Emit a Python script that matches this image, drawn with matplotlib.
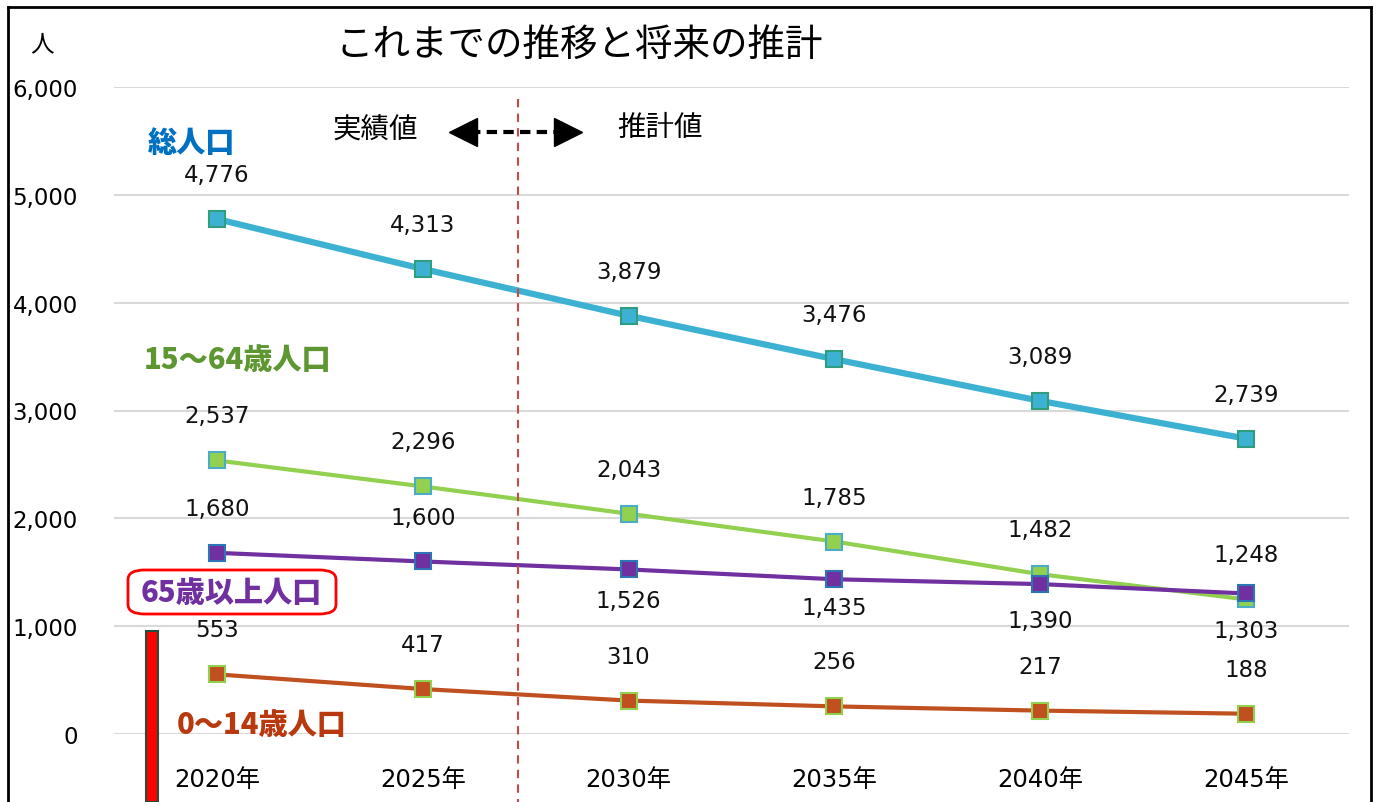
import matplotlib
matplotlib.use('Agg')
import matplotlib.pyplot as plt
from matplotlib.lines import Line2D
from matplotlib.patches import Rectangle, FancyBboxPatch

plt.rcParams['font.family'] = ['DejaVu Sans', 'Noto Sans CJK JP']
JP = ['Noto Sans CJK JP', 'DejaVu Sans']

# data
years = ['2020年', '2025年', '2030年', '2035年', '2040年', '2045年']
total = [4776, 4313, 3879, 3476, 3089, 2739]
working = [2537, 2296, 2043, 1785, 1482, 1248]
elderly = [1680, 1600, 1526, 1435, 1390, 1303]
children = [553, 417, 310, 256, 217, 188]
yticks = [0, 1000, 2000, 3000, 4000, 5000, 6000]

W, H = 1378, 803
fig = plt.figure(figsize=(W / 100, H / 100), dpi=100)

def px(x, y):
    # pixel position (from top-left) -> figure fraction
    return x / W, 1 - y / H

ax = fig.add_axes([114 / W, 1 - 735 / H, 1235 / W, 647 / H])
x = [i + 0.5 for i in range(len(years))]
ax.set_xlim(0, 6)
ax.set_ylim(0, 6000)
ax.set_yticks(yticks)
ax.set_yticklabels([f'{v:,}' for v in yticks], fontsize=16.5)
ax.set_xticks(x)
ax.set_xticklabels(years, fontsize=17.5)
ax.tick_params(length=0)
ax.tick_params(axis='y', pad=26)
ax.tick_params(axis='x', pad=24)
for s in ax.spines.values():
    s.set_visible(False)
ax.grid(axis='y', color='#D9D9D9', lw=1.5)
ax.set_axisbelow(True)

series = [
    (total, '#3DB1D2', '#2E9E7E', 4.5, ['a'] * 6),
    (working, '#92D050', '#4BACC6', 3, ['a'] * 6),
    (elderly, '#7030A0', '#2E75B6', 3, ['a', 'a', 'b', 'b', 'b', 'b']),
    (children, '#C0501F', '#92D050', 3, ['a'] * 6),
]
below_off = [-22, -20, -26, -27]
for vals, col, edge, lw, where in series:
    ax.plot(x, vals, color=col, lw=lw, marker='s', ms=11, mfc=col, mec=edge,
            mew=1.5, zorder=3)
    k = 0
    for xi, v, w in zip(x, vals, where):
        if w == 'a':
            off = 32
        else:
            off = below_off[k]
            k += 1
        ax.annotate(f'{v:,}', (xi, v), xytext=(0, off), textcoords='offset points',
                    ha='center', va='center', fontsize=16.5, color='#111111')

# frame
for (x0, y0), (x1, y1) in [((8, 803), (8, 8)), ((8, 8), (1371, 8)), ((1371, 8), (1371, 803))]:
    a, b = px(x0, y0)
    c, d = px(x1, y1)
    fig.add_artist(Line2D([a, c], [b, d], color='black', lw=2))

fig.text(*px(42, 45), '人', fontsize=17, family=JP, ha='center', va='center')
fig.text(*px(579, 45), 'これまでの推移と将来の推計', fontsize=27, family=JP,
         ha='center', va='center')

# actual / projected divider
a, b = px(518, 100)
c, d = px(518, 803)
fig.add_artist(Line2D([a, c], [b, d], color='#C8494B', lw=1.5, ls=(0, (4, 3))))
fig.text(*px(375, 131), '実績値', fontsize=20.5, family=JP, ha='center', va='center')
fig.text(*px(660, 128), '推計値', fontsize=20.5, family=JP, ha='center', va='center')
a, b = px(470, 133)
c, d = px(562, 133)
fig.add_artist(Line2D([a, c], [b, d], color='black', lw=3, ls=(0, (2.5, 1.5))))
fig.add_artist(Line2D([px(463, 133)[0]], [b], marker='<', ms=20, color='black', ls='none'))
fig.add_artist(Line2D([px(568, 133)[0]], [b], marker='>', ms=20, color='black', ls='none'))

# series labels
fig.text(*px(192, 143), '総人口', fontsize=21, family=JP, weight='black',
         color='#0070C0', ha='center', va='center')
fig.text(*px(238, 360), '15～64歳人口', fontsize=21, family=JP, weight='black',
         color='#5E9732', ha='center', va='center', style='italic')
box = FancyBboxPatch(px(128, 615), 208 / W, 44 / H,
                     boxstyle='round,pad=0,rounding_size=0.012',
                     transform=fig.transFigure, fc='white', ec='#FF0000', lw=2)
fig.add_artist(box)
fig.text(*px(231, 593), '65歳以上人口', fontsize=21, family=JP, weight='black',
         color='#7030A0', ha='center', va='center')
fig.text(*px(262, 725), '0～14歳人口', fontsize=21, family=JP, weight='black',
         color='#B8390E', ha='center', va='center', style='italic')

# red bar
fig.add_artist(Rectangle(px(146, 803), 12 / W, 171 / H, transform=fig.transFigure,
                         fc='#FF0000', ec='#1F4E3D', lw=1.5))

fig.savefig('out.png', dpi=100, facecolor='white')
